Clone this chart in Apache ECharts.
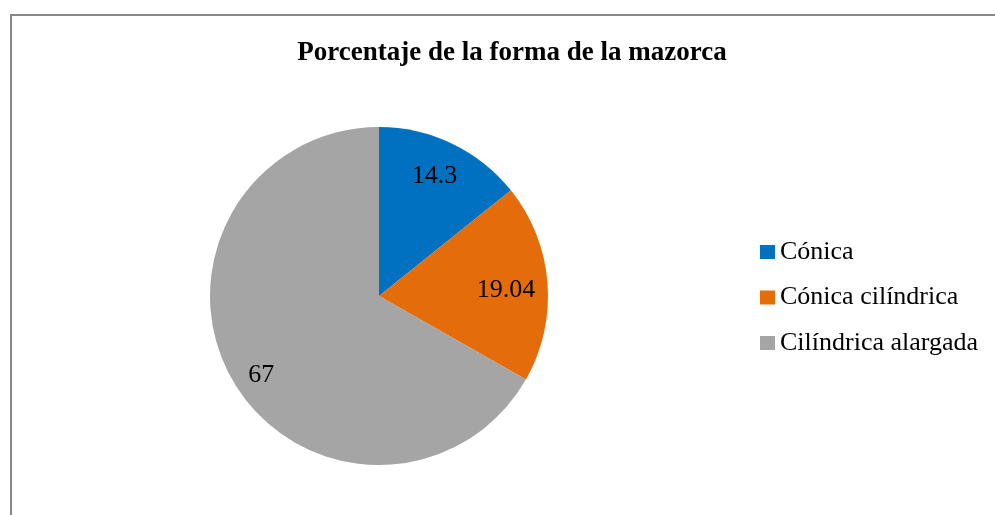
<!DOCTYPE html>
<html>
<head>
<meta charset="utf-8">
<script src="https://cdn.jsdelivr.net/npm/echarts@6/dist/echarts.min.js"></script>
<style>
html,body{margin:0;padding:0;background:#fff;}
#main{width:995px;height:515px;}
</style>
</head>
<body>
<div id="main"></div>
<script>
var categories = ['Cónica', 'Cónica cilíndrica', 'Cilíndrica alargada'];
var values = [14.3, 19.04, 67];
var colors = ['#0070C0', '#E46C0A', '#A5A5A5'];
var titleText = 'Porcentaje de la forma de la mazorca';

// layout only: nudges of the data labels (pixels)
var labelNudges = [[-4, 4], [-10, 5], [1, 10]];

var pieData = categories.map(function (c, i) {
  return { name: c, value: values[i], itemStyle: { color: colors[i] } };
});
var labelData = categories.map(function (c, i) {
  return { name: c, value: values[i], itemStyle: { color: 'rgba(0,0,0,0)' },
           label: { offset: labelNudges[i] } };
});

var chart = echarts.init(document.getElementById('main'), null, { renderer: 'canvas' });
var font = '"Liberation Serif", "Times New Roman", serif';
chart.setOption({
  animation: false,
  backgroundColor: '#fff',
  title: {
    text: titleText,
    left: 512, top: 40, textAlign: 'center', padding: 0,
    textStyle: { fontFamily: font, fontSize: 27, fontWeight: 'bold', color: '#000' }
  },
  legend: {
    orient: 'vertical',
    left: 760, top: 239, padding: 0,
    itemWidth: 15, itemHeight: 14, itemGap: 19.5,
    icon: 'rect',
    data: categories,
    textStyle: { fontFamily: font, fontSize: 26, color: '#000' },
    selectedMode: false
  },
  graphic: [{
    type: 'rect',
    shape: { x: 11, y: 15, width: 1000, height: 600 },
    style: { fill: 'none', stroke: '#888', lineWidth: 2 },
    silent: true
  }],
  series: [{
    type: 'pie',
    center: [379, 296],
    radius: [0, 169],
    startAngle: 90,
    clockwise: true,
    label: { show: false },
    labelLine: { show: false },
    silent: true,
    data: pieData
  }, {
    type: 'pie',
    center: [379, 296],
    radius: [100, 169],
    startAngle: 90,
    clockwise: true,
    silent: true,
    legendHoverLink: false,
    label: {
      show: true, position: 'inside',
      formatter: '{c}',
      fontFamily: font, fontSize: 26, color: '#000'
    },
    labelLine: { show: false },
    data: labelData
  }]
});
</script>
</body>
</html>
